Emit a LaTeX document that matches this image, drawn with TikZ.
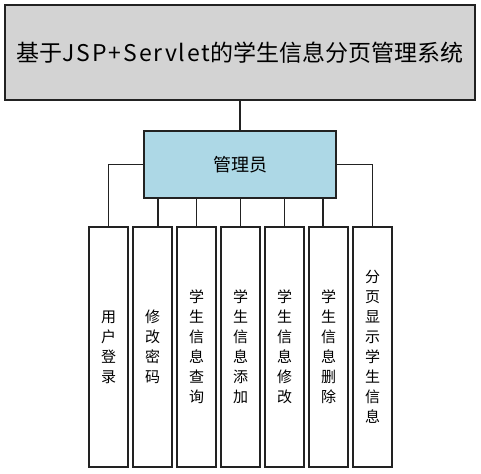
\documentclass[tikz,border=0pt]{standalone}
\usepackage{fontspec}
\newfontfamily\cjk{Noto Sans CJK SC}
\definecolor{topfill}{HTML}{D3D3D3}
\definecolor{mgrfill}{HTML}{ADD8E6}
\definecolor{edge}{HTML}{222222}
\begin{document}
\begin{tikzpicture}[x=1pt,y=-1pt,
  box/.style={draw=edge,line width=1.5pt,inner sep=0pt,align=center},
  leaf/.style={box,fill=white,minimum width=39pt,minimum height=240pt,font=\cjk\fontsize{15}{20}\selectfont},
  link/.style={draw=edge,line width=1.5pt}]
\path[use as bounding box] (0,0) rectangle (481,473);
\node[box,fill=topfill,minimum width=470pt,minimum height=95pt,font=\cjk\fontsize{23}{26}\selectfont] (top) at (240,52.5) {基于{\addfontfeature{LetterSpace=8}JSP+Servlet}的学生信息分页管理系统};
\node[box,fill=mgrfill,minimum width=192pt,minimum height=67pt,font=\cjk\fontsize{18}{20}\selectfont] (mgr) at (240,164.5) {管理员};
\node[leaf] (b1) at (108.5,347) {用\\户\\登\\录};
\node[leaf] (b2) at (152.5,347) {修\\改\\密\\码};
\node[leaf] (b3) at (196.5,347) {学\\生\\信\\息\\查\\询};
\node[leaf] (b4) at (240.5,347) {学\\生\\信\\息\\添\\加};
\node[leaf] (b5) at (284.5,347) {学\\生\\信\\息\\修\\改};
\node[leaf] (b6) at (328.5,347) {学\\生\\信\\息\\删\\除};
\node[leaf] (b7) at (372.5,347) {分\\页\\显\\示\\学\\生\\信\\息};
\draw[link] (top.south) -- (mgr.north);
\draw[link] (mgr.west) -| (b1.north);
\draw[link] (mgr.east) -| (b7.north);
\draw[link] ([xshift=5.5pt]b2.north |- mgr.south) -- ([xshift=5.5pt]b2.north);
\draw[link] (b3.north |- mgr.south) -- (b3.north);
\draw[link] (b4.north |- mgr.south) -- (b4.north);
\draw[link] (b5.north |- mgr.south) -- (b5.north);
\draw[link] ([xshift=-5.5pt]b6.north |- mgr.south) -- ([xshift=-5.5pt]b6.north);
\end{tikzpicture}
\end{document}
